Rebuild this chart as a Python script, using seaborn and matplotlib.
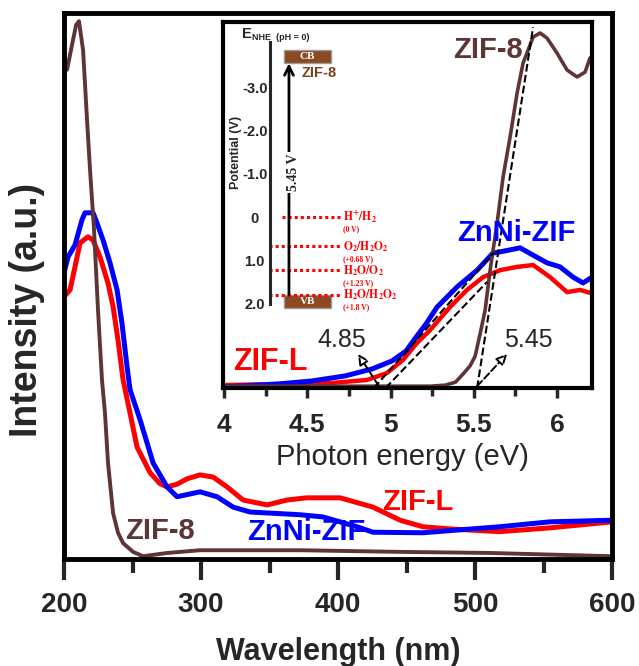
import matplotlib
matplotlib.use('Agg')
import matplotlib.pyplot as plt
import seaborn as sns

# main UV-vis spectra, intensity scaled 0-1 to the frame height
wl_zif8 = [200.0, 202.2, 205.8, 208.8, 210.9, 213.9, 216.8, 219.0, 221.9, 224.8, 227.7, 229.9,
           232.1, 235.8, 239.4, 243.1, 250.4, 257.7, 275.2, 299.3, 372.3, 445.3, 511.0, 600.0]
int_zif8 = [0.914, 0.896, 0.941, 0.978, 0.985, 0.932, 0.804, 0.712, 0.603, 0.456, 0.328, 0.267,
            0.176, 0.084, 0.048, 0.029, 0.013, 0.005, 0.011, 0.016, 0.016, 0.013, 0.011, 0.005]

wl_zifl = [200.0, 204.4, 208.0, 211.7, 217.5, 221.2, 226.3, 232.1, 235.8, 239.4, 243.1, 248.2,
           253.3, 262.8, 270.0, 275.2, 282.5, 290.0, 299.3, 308.8, 319.0, 330.7, 348.2, 362.8,
           377.0, 401.5, 425.5, 445.3, 462.0, 482.0, 518.0, 554.7, 600.0]
int_zifl = [0.480, 0.493, 0.535, 0.579, 0.590, 0.584, 0.553, 0.505, 0.462, 0.401, 0.328, 0.267,
            0.205, 0.158, 0.138, 0.132, 0.137, 0.147, 0.154, 0.150, 0.132, 0.108, 0.099, 0.108,
            0.112, 0.112, 0.095, 0.071, 0.059, 0.055, 0.050, 0.057, 0.068]

wl_znni = [200.0, 202.9, 208.0, 213.1, 215.3, 221.2, 224.1, 228.5, 233.6, 238.7, 242.3, 246.0,
           248.2, 255.5, 265.0, 275.2, 282.5, 299.3, 311.7, 323.4, 335.8, 372.3, 389.0, 413.9,
           425.5, 462.0, 482.0, 518.0, 554.7, 600.0]
int_znni = [0.524, 0.553, 0.575, 0.621, 0.634, 0.634, 0.615, 0.584, 0.542, 0.493, 0.432, 0.352,
            0.310, 0.255, 0.176, 0.132, 0.114, 0.123, 0.114, 0.095, 0.086, 0.081, 0.077, 0.059,
            0.049, 0.048, 0.052, 0.059, 0.068, 0.071]

# inset: absorption vs photon energy
ev_zif8 = [4.00, 4.46, 5.06, 5.24, 5.33, 5.39, 5.435, 5.477, 5.508, 5.538, 5.568, 5.598, 5.640,
           5.676, 5.718, 5.760, 5.796, 5.826, 5.856, 5.898, 5.940, 6.000, 6.060, 6.120, 6.168, 6.198]
abs_zif8 = [0.005, 0.005, 0.005, 0.005, 0.008, 0.016, 0.038, 0.060, 0.087, 0.148, 0.213, 0.322, 0.451,
            0.577, 0.686, 0.806, 0.888, 0.923, 0.959, 0.970, 0.956, 0.915, 0.869, 0.850, 0.863, 0.902]

ev_zifl = [4.00, 4.336, 4.655, 4.859, 4.979, 5.075, 5.159, 5.237, 5.357, 5.459, 5.556, 5.658,
           5.760, 5.856, 5.958, 6.060, 6.138, 6.198]
abs_zifl = [0.008, 0.011, 0.014, 0.022, 0.041, 0.077, 0.123, 0.158, 0.221, 0.268, 0.303, 0.322,
            0.331, 0.336, 0.303, 0.262, 0.268, 0.260]

ev_znni = [4.00, 4.324, 4.523, 4.727, 4.889, 5.009, 5.093, 5.153, 5.213, 5.279, 5.399, 5.520,
           5.616, 5.658, 5.778, 5.856, 5.940, 6.018, 6.096, 6.156, 6.210]
abs_znni = [0.003, 0.011, 0.019, 0.033, 0.052, 0.074, 0.101, 0.139, 0.175, 0.221, 0.276, 0.322,
            0.369, 0.372, 0.383, 0.363, 0.342, 0.331, 0.303, 0.287, 0.303]

# tangent lines used for the band gap reading
tan_znni_x = [4.90, 5.62]
tan_znni_y = [0.0, 0.37]
tan_zifl_x = [4.97, 5.58]
tan_zifl_y = [0.0, 0.29]
tan_zif8_x = [5.52, 5.856]
tan_zif8_y = [0.0, 0.986]
gap_text = ['4.85', '5.45']

# band diagram, potential in V vs NHE
cb_level = -3.65
vb_level = 1.80
redox_names = [r'$\mathbf{H^{+}/H_{2}}$', r'$\mathbf{O_{2}/H_{2}O_{2}}$',
               r'$\mathbf{H_{2}O/O_{2}}$', r'$\mathbf{H_{2}O/H_{2}O_{2}}$']
redox_values = [0.0, 0.68, 1.23, 1.8]
redox_notes = ['(0 V)', '(+0.68 V)', '(+1.23 V)', '(+1.8 V)']
pot_major = [-3, -2, -1, 0, 1, 2]
pot_labels = ['-3.0', '-2.0', '-1.0', '0', '1.0', '2.0']
pot_minor = [-4, -3.5, -2.5, -1.5, -0.5, 0.5, 1.5]

brown = '#5e3434'
red = '#ff0000'
blue = '#0000ff'

sns.set_style('white')
plt.rcParams['font.family'] = ['Liberation Sans', 'DejaVu Sans']
plt.rcParams['mathtext.fontset'] = 'stix'

fig = plt.figure(figsize=(6.39, 6.66), dpi=100)

# ---- main axes ----
ax = fig.add_axes([0.1002, 0.1607, 0.8576, 0.8198])
sns.lineplot(x=wl_zifl, y=int_zifl, ax=ax, color=red, linewidth=3.6)
sns.lineplot(x=wl_znni, y=int_znni, ax=ax, color=blue, linewidth=3.6)
sns.lineplot(x=wl_zif8, y=int_zif8, ax=ax, color=brown, linewidth=2.8)
ax.set_xlim(200, 600)
ax.set_ylim(0, 1)
ax.set_xticks([200, 300, 400, 500, 600])
ax.set_xticks([250, 350, 450, 550], minor=True)
ax.set_yticks([])
for s in ax.spines.values():
    s.set_linewidth(3.5)
    s.set_color('black')
ax.tick_params(axis='x', which='major', direction='out', length=15, width=3, pad=9,
               labelsize=20, bottom=True)
ax.tick_params(axis='x', which='minor', direction='out', length=10, width=3, bottom=True)
for t in ax.get_xticklabels():
    t.set_fontweight('bold')
ax.set_xlabel('Wavelength (nm)', fontsize=22, fontweight='bold')
ax.xaxis.set_label_coords(0.5, -0.143)
ax.set_ylabel('Intensity (a.u.)', fontsize=27, fontweight='bold')
ax.yaxis.set_label_coords(-0.035, 0.456)

ax.text(458, 0.104, 'ZIF-L', color=red, fontsize=21, fontweight='bold', ha='center', va='center')
ax.text(377, 0.049, 'ZnNi-ZIF', color=blue, fontsize=21, fontweight='bold', ha='center', va='center')
ax.text(270, 0.051, 'ZIF-8', color=brown, fontsize=21, fontweight='bold', ha='center', va='center')

# ---- inset ----
ins = fig.add_axes([0.349, 0.4174, 0.5775, 0.5495])
ins.set_facecolor('white')
sns.lineplot(x=ev_zifl, y=abs_zifl, ax=ins, color=red, linewidth=3.2)
sns.lineplot(x=ev_znni, y=abs_znni, ax=ins, color=blue, linewidth=3.6)
sns.lineplot(x=ev_zif8, y=abs_zif8, ax=ins, color=brown, linewidth=2.6)
sns.lineplot(x=tan_znni_x, y=tan_znni_y, ax=ins, color='black', linewidth=1.5, linestyle='--')
sns.lineplot(x=tan_zifl_x, y=tan_zifl_y, ax=ins, color='black', linewidth=1.5, linestyle='--')
sns.lineplot(x=tan_zif8_x, y=tan_zif8_y, ax=ins, color='black', linewidth=1.5, linestyle='--')
ins.set_xlim(3.994, 6.21)
ins.set_ylim(0, 1)
ins.set_xticks([4, 4.5, 5, 5.5, 6])
ins.set_xticklabels(['4', '4.5', '5', '5.5', '6'])
ins.set_xticks([4.25, 4.75, 5.25, 5.75], minor=True)
ins.set_yticks([])
for s in ins.spines.values():
    s.set_linewidth(3)
    s.set_color('black')
ins.tick_params(axis='x', which='major', direction='out', length=7, width=2.5, pad=11,
                labelsize=19, bottom=True)
ins.tick_params(axis='x', which='minor', direction='out', length=6, width=2.5, bottom=True)
for t in ins.get_xticklabels():
    t.set_fontweight('bold')
ins.set_xlabel('Photon energy (eV)', fontsize=21)
ins.xaxis.set_label_coords(0.485, -0.150)

ins.text(4.276, 0.071, 'ZIF-L', color=red, fontsize=22, fontweight='bold', ha='center', va='center')
ins.text(5.754, 0.423, 'ZnNi-ZIF', color=blue, fontsize=21, fontweight='bold', ha='center', va='center')
ins.text(5.586, 0.923, 'ZIF-8', color=brown, fontsize=21, fontweight='bold', ha='center', va='center')

arrow_kw = dict(arrowstyle='-|>', linestyle='--', lw=1.4, color='black', fc='white',
                mutation_scale=16, shrinkA=0, shrinkB=0)
ins.annotate('', xy=(4.805, 0.093), xytext=(tan_znni_x[0] + 0.03, 0.005), arrowprops=arrow_kw)
ins.annotate('', xy=(5.70, 0.093), xytext=(tan_zif8_x[0], 0.005), arrowprops=arrow_kw)
ins.text(4.709, 0.131, gap_text[0], fontsize=18, ha='center', va='center')
ins.text(5.826, 0.131, gap_text[1], fontsize=18, ha='center', va='center')

# ---- band diagram ----
eb = fig.add_axes([0.4225, 0.4174, 0.2034, 0.5495])
eb.set_facecolor('none')
eb.set_xlim(0, 1)
eb.set_ylim(3.949, -4.503)
for side in ['top', 'right', 'bottom']:
    eb.spines[side].set_visible(False)
eb.spines['left'].set_linewidth(2.2)
eb.spines['left'].set_bounds(-4.05, 2.0)
eb.set_xticks([])
eb.set_yticks(pot_major)
eb.set_yticklabels(pot_labels)
eb.set_yticks(pot_minor, minor=True)
eb.tick_params(axis='y', which='major', direction='in', length=9, width=2.2, pad=11, labelsize=10.5)
eb.tick_params(axis='y', which='minor', direction='in', length=5, width=2.2)
for t in eb.get_yticklabels():
    t.set_fontweight('bold')
    t.set_horizontalalignment('center')

eb.text(-0.26, 0.645, 'Potential (V)', transform=eb.transAxes, rotation=90, fontsize=9,
        fontweight='bold', ha='center', va='center')
eb.text(-0.215, 0.968, 'E', transform=eb.transAxes, fontsize=10.5, fontweight='bold',
        ha='left', va='center')
eb.text(-0.135, 0.958, 'NHE  (pH = 0)', transform=eb.transAxes, fontsize=6.5, fontweight='bold',
        ha='left', va='center')

box_x = 0.2885
box_w = 0.36
eb.bar(box_x, 0.3, bottom=cb_level - 0.2, width=box_w, color='#8b4a22', edgecolor='#9a9a9a', linewidth=1)
eb.bar(box_x, 0.3, bottom=vb_level, width=box_w, color='#8b4a22', edgecolor='#9a9a9a', linewidth=1)
eb.text(box_x, cb_level - 0.05, 'CB', color='white', fontsize=8, fontweight='bold',
        family='Liberation Serif', ha='center', va='center')
eb.text(box_x, vb_level + 0.15, 'VB', color='white', fontsize=8, fontweight='bold',
        family='Liberation Serif', ha='center', va='center')
eb.text(0.377, cb_level + 0.32, 'ZIF-8', color='#7a3f1d', fontsize=10.5, fontweight='bold',
        ha='center', va='center')

arrow_x = 0.146
eb.annotate('', xy=(arrow_x, cb_level + 0.1), xytext=(arrow_x, vb_level),
            arrowprops=dict(arrowstyle='->', lw=2, color='black', mutation_scale=16,
                            shrinkA=0, shrinkB=0))
eb.text(arrow_x + 0.035, -1.03, f'{vb_level - cb_level:.2f} V', rotation=90, fontsize=10,
        fontweight='bold', family='Liberation Serif', ha='center', va='center',
        bbox=dict(facecolor='white', edgecolor='none', pad=1))

for i, (name, val, note) in enumerate(zip(redox_names, redox_values, redox_notes)):
    x0 = 0.092 if i == 0 else -0.01
    eb.plot([x0, 0.54], [val, val], color=red, linestyle=(0, (1, 1)), linewidth=2.2, clip_on=False)
    eb.text(0.56, val, name, color=red, fontsize=8.3, ha='left', va='center')
    eb.annotate(note, xy=(0.56, val), xytext=(0, -9), textcoords='offset points', color=red,
                fontsize=5.5, fontweight='bold', family='Liberation Serif', ha='left', va='center')

fig.savefig('out.png', dpi=100)
